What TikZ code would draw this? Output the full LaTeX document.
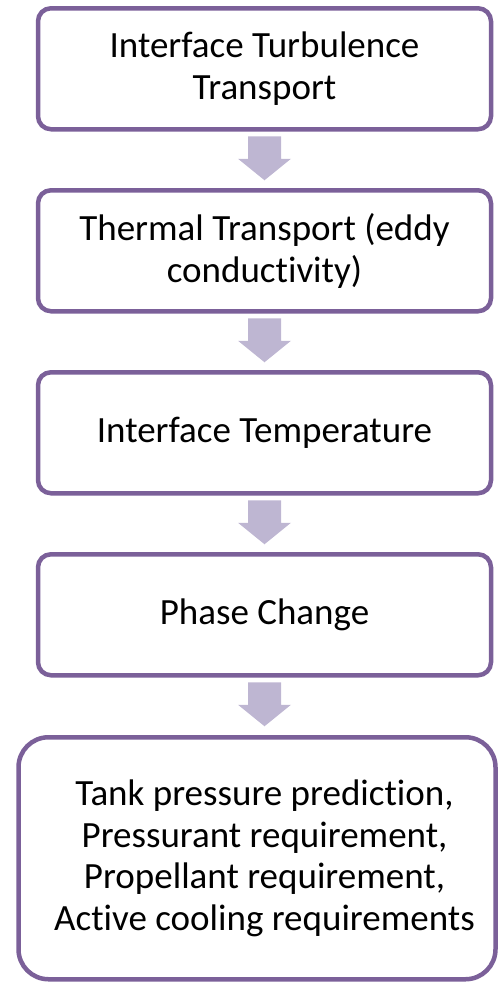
\documentclass[tikz,border=0pt]{standalone}
\usepackage{fontspec}
\setmainfont{Carlito}[Ligatures={NoCommon,NoContextual}]
\usepackage{xcolor}
\usepackage{tikz}
\usetikzlibrary{positioning}

\definecolor{boxline}{RGB}{123,96,153}
\definecolor{arrowfill}{RGB}{190,182,210}

% block arrow hanging below a box
\newcommand{\flowarrow}[1]{%
    \fill[arrowfill] ([yshift=-7pt]#1) ++(-16.5,0) -- ++(33,0) -- ++(0,-22.5)
        -- ++(10,0) -- ++(-26.5,-21.5) -- ++(-26.5,21.5) -- ++(10,0) -- cycle;
}

\begin{document}
\begin{tikzpicture}[x=1pt, y=1pt, font=\fontsize{37}{41.5}\selectfont,
    flowbox/.style={draw=boxline, line width=4.5pt, rounded corners=13pt,
        minimum width=453pt, minimum height=121pt, align=center,
        outer sep=0pt, inner sep=0pt},
    node distance=61pt]
    \useasboundingbox (0,0) rectangle (498,-983);
    \node[flowbox] (turb) at (264.5,-68.75) {Interface Turbulence\\Transport};
    \node[flowbox, below=of turb] (thermal) {Thermal Transport (eddy\\conductivity)};
    \node[flowbox, below=of thermal] (temp) {Interface Temperature};
    \node[flowbox, below=of temp] (phase) {Phase Change};
    \node[flowbox, below=62pt of phase, xshift=-7.5pt, minimum width=477pt,
        minimum height=242pt, rounded corners=30pt] (req) {};
    \node[align=center] (reqtext) at ([xshift=7.5pt]req.center)
        {Tank pressure prediction,\\Pressurant requirement,\\Propellant requirement,\\Active cooling requirements};
    \foreach \a in {turb, thermal, temp, phase} {
        \flowarrow{\a.south}
    }
\end{tikzpicture}
\end{document}
